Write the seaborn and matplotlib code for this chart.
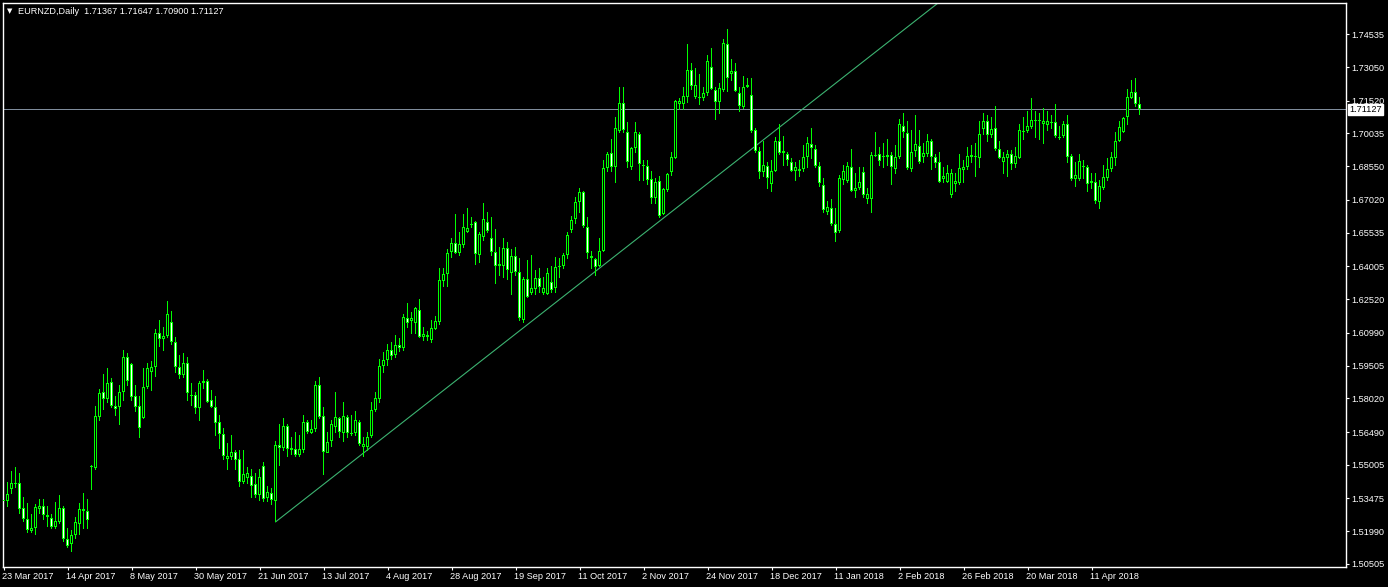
import matplotlib
matplotlib.use("Agg")
import matplotlib.pyplot as plt
import matplotlib.transforms as mtransforms
import numpy as np
import pandas as pd
import seaborn as sns

# EURNZD daily bars, 23 Mar 2017 .. 27 Apr 2018
opens = [
    1.5336, 1.5336, 1.5391, 1.5418, 1.5417, 1.5304, 1.5254, 1.5200, 1.5213, 1.5300,
    1.5313, 1.5273, 1.5259, 1.5218, 1.5241, 1.5304, 1.5164, 1.5141, 1.5182, 1.5232,
    1.5291, 1.5291, 1.5495, 1.5486, 1.5717, 1.5830, 1.5799, 1.5876, 1.5767, 1.5762,
    1.5830, 1.5989, 1.5957, 1.5812, 1.5767, 1.5712, 1.5853, 1.5921, 1.5944, 1.6098,
    1.6071, 1.6085, 1.6148, 1.6057, 1.5944, 1.5908, 1.5962, 1.5817, 1.5817, 1.5758,
    1.5871, 1.5880, 1.5794, 1.5762, 1.5694, 1.5640, 1.5527, 1.5536, 1.5558, 1.5527,
    1.5422, 1.5440, 1.5450, 1.5413, 1.5363, 1.5495, 1.5350, 1.5372, 1.5336, 1.5590,
    1.5576, 1.5676, 1.5567, 1.5572, 1.5545, 1.5567, 1.5694, 1.5645, 1.5662, 1.5862,
    1.5722, 1.5554, 1.5608, 1.5672, 1.5712, 1.5645, 1.5717, 1.5645, 1.5645, 1.5694,
    1.5581, 1.5581, 1.5631, 1.5749, 1.5799, 1.5948, 1.5976, 1.6021, 1.5998, 1.6044,
    1.6030, 1.6166, 1.6153, 1.6143, 1.6202, 1.6080, 1.6089, 1.6066, 1.6116, 1.6148,
    1.6334, 1.6366, 1.6466, 1.6507, 1.6461, 1.6497, 1.6556, 1.6593, 1.6602, 1.6452,
    1.6534, 1.6602, 1.6529, 1.6466, 1.6411, 1.6402, 1.6484, 1.6370, 1.6448, 1.6375,
    1.6157, 1.6343, 1.6280, 1.6298, 1.6348, 1.6280, 1.6275, 1.6330, 1.6302, 1.6402,
    1.6402, 1.6452, 1.6565, 1.6615, 1.6693, 1.6738, 1.6579, 1.6438, 1.6434, 1.6402,
    1.6470, 1.6847, 1.6915, 1.6851, 1.7015, 1.7142, 1.7010, 1.6851, 1.6938, 1.7001,
    1.6860, 1.6856, 1.6797, 1.6711, 1.6788, 1.6638, 1.6747, 1.6829, 1.6892, 1.7137,
    1.7137, 1.7169, 1.7291, 1.7169, 1.7169, 1.7164, 1.7187, 1.7305, 1.7201, 1.7146,
    1.7201, 1.7409, 1.7273, 1.7287, 1.7187, 1.7124, 1.7214, 1.7178, 1.7019, 1.6924,
    1.6829, 1.6856, 1.6774, 1.6833, 1.6969, 1.6924, 1.6910, 1.6874, 1.6833, 1.6842,
    1.6842, 1.6897, 1.6956, 1.6933, 1.6856, 1.6770, 1.6647, 1.6665, 1.6593, 1.6561,
    1.6792, 1.6788, 1.6851, 1.6742, 1.6756, 1.6829, 1.6706, 1.6706, 1.6906, 1.6910,
    1.6901, 1.6897, 1.6906, 1.6842, 1.6897, 1.7037, 1.7006, 1.6842, 1.6924, 1.6947,
    1.6897, 1.6910, 1.6969, 1.6897, 1.6874, 1.6797, 1.6783, 1.6724, 1.6774, 1.6779,
    1.6838, 1.6851, 1.6897, 1.6901, 1.6892, 1.7024, 1.7060, 1.6997, 1.7028, 1.6933,
    1.6874, 1.6892, 1.6910, 1.6865, 1.6892, 1.7015, 1.7015, 1.7033, 1.7065, 1.7065,
    1.7046, 1.7042, 1.7051, 1.7056, 1.6987, 1.6992, 1.7046, 1.6901, 1.6797, 1.6797,
    1.6856, 1.6851, 1.6779, 1.6783, 1.6693, 1.6756, 1.6801, 1.6842, 1.6892, 1.6969,
    1.7010, 1.7078, 1.7164, 1.7192, 1.71367,
]
highs = [
    1.5363, 1.5422, 1.5468, 1.5490, 1.5459, 1.5350, 1.5323, 1.5273, 1.5318, 1.5341,
    1.5341, 1.5313, 1.5273, 1.5327, 1.5359, 1.5313, 1.5209, 1.5200, 1.5259, 1.5323,
    1.5372, 1.5341, 1.5499, 1.5767, 1.5844, 1.5908, 1.5939, 1.5894, 1.5812, 1.5862,
    1.6021, 1.6007, 1.5962, 1.5862, 1.5808, 1.5939, 1.5962, 1.5971, 1.6112, 1.6153,
    1.6125, 1.6239, 1.6198, 1.6076, 1.5998, 1.6007, 1.5985, 1.5871, 1.5830, 1.5876,
    1.5930, 1.5885, 1.5839, 1.5808, 1.5722, 1.5667, 1.5595, 1.5635, 1.5567, 1.5567,
    1.5567, 1.5486, 1.5477, 1.5463, 1.5481, 1.5509, 1.5400, 1.5391, 1.5608, 1.5681,
    1.5712, 1.5681, 1.5626, 1.5649, 1.5635, 1.5726, 1.5703, 1.5703, 1.5880, 1.5898,
    1.5758, 1.5649, 1.5703, 1.5830, 1.5717, 1.5781, 1.5726, 1.5726, 1.5744, 1.5703,
    1.5626, 1.5649, 1.5785, 1.5826, 1.5976, 1.6012, 1.6044, 1.6057, 1.6089, 1.6071,
    1.6180, 1.6230, 1.6193, 1.6216, 1.6248, 1.6125, 1.6107, 1.6153, 1.6175, 1.6393,
    1.6393, 1.6475, 1.6525, 1.6634, 1.6552, 1.6634, 1.6665, 1.6620, 1.6606, 1.6556,
    1.6688, 1.6643, 1.6624, 1.6570, 1.6488, 1.6529, 1.6511, 1.6479, 1.6488, 1.6438,
    1.6348, 1.6429, 1.6448, 1.6384, 1.6389, 1.6348, 1.6393, 1.6398, 1.6443, 1.6434,
    1.6457, 1.6552, 1.6629, 1.6711, 1.6756, 1.6742, 1.6624, 1.6470, 1.6438, 1.6525,
    1.6883, 1.6919, 1.6974, 1.7074, 1.7210, 1.7210, 1.7051, 1.6942, 1.7051, 1.7010,
    1.6883, 1.6883, 1.6833, 1.6801, 1.6806, 1.6756, 1.6824, 1.6915, 1.7155, 1.7160,
    1.7210, 1.7405, 1.7319, 1.7300, 1.7273, 1.7210, 1.7359, 1.7387, 1.7210, 1.7228,
    1.7432, 1.7473, 1.7337, 1.7319, 1.7214, 1.7260, 1.7255, 1.7251, 1.7024, 1.6938,
    1.6965, 1.6874, 1.6879, 1.6983, 1.7042, 1.6992, 1.6919, 1.6888, 1.6870, 1.6883,
    1.6951, 1.6983, 1.7024, 1.6947, 1.6874, 1.6797, 1.6697, 1.6702, 1.6665, 1.6815,
    1.6860, 1.6870, 1.6933, 1.6820, 1.6847, 1.6847, 1.6756, 1.6915, 1.7010, 1.6942,
    1.6956, 1.6974, 1.6919, 1.6947, 1.7069, 1.7096, 1.7056, 1.7015, 1.7087, 1.7015,
    1.6960, 1.6997, 1.6978, 1.6906, 1.6919, 1.6847, 1.6860, 1.6838, 1.6820, 1.6910,
    1.6879, 1.6942, 1.6947, 1.6956, 1.7056, 1.7092, 1.7083, 1.7078, 1.7128, 1.6965,
    1.6915, 1.6924, 1.6928, 1.6942, 1.7042, 1.7078, 1.7105, 1.7160, 1.7105, 1.7092,
    1.7119, 1.7105, 1.7087, 1.7137, 1.7037, 1.7060, 1.7087, 1.6910, 1.6870, 1.6906,
    1.6883, 1.6860, 1.6824, 1.6820, 1.6788, 1.6856, 1.6888, 1.6919, 1.7006, 1.7060,
    1.7078, 1.7201, 1.7246, 1.7251, 1.71647,
]
lows = [
    1.5281, 1.5309, 1.5372, 1.5395, 1.5281, 1.5241, 1.5191, 1.5195, 1.5186, 1.5281,
    1.5250, 1.5222, 1.5213, 1.5209, 1.5232, 1.5150, 1.5127, 1.5105, 1.5164, 1.5186,
    1.5209, 1.5209, 1.5386, 1.5481, 1.5703, 1.5753, 1.5781, 1.5762, 1.5722, 1.5681,
    1.5794, 1.5862, 1.5794, 1.5744, 1.5626, 1.5712, 1.5848, 1.5839, 1.5903, 1.6039,
    1.6021, 1.6076, 1.6044, 1.5921, 1.5894, 1.5898, 1.5794, 1.5767, 1.5735, 1.5699,
    1.5848, 1.5781, 1.5758, 1.5635, 1.5576, 1.5522, 1.5477, 1.5522, 1.5477, 1.5400,
    1.5417, 1.5417, 1.5350, 1.5354, 1.5336, 1.5332, 1.5332, 1.5318, 1.5241, 1.5499,
    1.5567, 1.5540, 1.5545, 1.5540, 1.5540, 1.5558, 1.5640, 1.5640, 1.5653, 1.5712,
    1.5454, 1.5554, 1.5581, 1.5649, 1.5626, 1.5604, 1.5626, 1.5635, 1.5635, 1.5590,
    1.5536, 1.5567, 1.5626, 1.5740, 1.5785, 1.5921, 1.5953, 1.5976, 1.5985, 1.6012,
    1.6021, 1.6121, 1.6098, 1.6094, 1.6076, 1.6066, 1.6066, 1.6053, 1.6112, 1.6139,
    1.6311, 1.6311, 1.6443, 1.6457, 1.6448, 1.6484, 1.6552, 1.6579, 1.6407, 1.6416,
    1.6520, 1.6552, 1.6452, 1.6325, 1.6361, 1.6348, 1.6339, 1.6271, 1.6361, 1.6157,
    1.6148, 1.6257, 1.6271, 1.6271, 1.6280, 1.6271, 1.6271, 1.6280, 1.6284, 1.6348,
    1.6393, 1.6438, 1.6556, 1.6597, 1.6647, 1.6579, 1.6438, 1.6393, 1.6361, 1.6398,
    1.6466, 1.6829, 1.6829, 1.6783, 1.7010, 1.7010, 1.6847, 1.6842, 1.6915, 1.6792,
    1.6792, 1.6770, 1.6688, 1.6688, 1.6624, 1.6634, 1.6738, 1.6815, 1.6888, 1.7110,
    1.7110, 1.7146, 1.7201, 1.7160, 1.7133, 1.7155, 1.7178, 1.7201, 1.7069, 1.7096,
    1.7196, 1.7192, 1.7246, 1.7192, 1.7101, 1.7119, 1.7210, 1.7010, 1.6919, 1.6797,
    1.6806, 1.6756, 1.6738, 1.6829, 1.6910, 1.6860, 1.6856, 1.6829, 1.6788, 1.6806,
    1.6833, 1.6851, 1.6892, 1.6847, 1.6761, 1.6647, 1.6634, 1.6584, 1.6515, 1.6552,
    1.6770, 1.6779, 1.6738, 1.6711, 1.6751, 1.6715, 1.6688, 1.6643, 1.6897, 1.6860,
    1.6851, 1.6856, 1.6774, 1.6824, 1.6892, 1.6987, 1.6838, 1.6833, 1.6897, 1.6865,
    1.6874, 1.6897, 1.6838, 1.6847, 1.6779, 1.6783, 1.6779, 1.6715, 1.6738, 1.6774,
    1.6779, 1.6842, 1.6870, 1.6806, 1.6851, 1.6997, 1.6965, 1.6983, 1.6928, 1.6888,
    1.6820, 1.6806, 1.6838, 1.6851, 1.6888, 1.6978, 1.7010, 1.7028, 1.6987, 1.6978,
    1.6960, 1.7019, 1.7028, 1.6987, 1.6978, 1.6987, 1.6874, 1.6792, 1.6761, 1.6792,
    1.6801, 1.6738, 1.6756, 1.6684, 1.6665, 1.6747, 1.6792, 1.6829, 1.6860, 1.6965,
    1.7006, 1.7046, 1.7160, 1.7124, 1.70900,
]
closes = [
    1.5341, 1.5368, 1.5417, 1.5417, 1.5300, 1.5254, 1.5204, 1.5213, 1.5309, 1.5313,
    1.5273, 1.5263, 1.5218, 1.5245, 1.5304, 1.5164, 1.5132, 1.5182, 1.5241, 1.5300,
    1.5300, 1.5250, 1.5490, 1.5722, 1.5826, 1.5799, 1.5871, 1.5767, 1.5753, 1.5830,
    1.5989, 1.5880, 1.5808, 1.5762, 1.5667, 1.5853, 1.5939, 1.5944, 1.6098, 1.6071,
    1.6085, 1.6184, 1.6057, 1.5944, 1.5908, 1.5962, 1.5826, 1.5816, 1.5758, 1.5871,
    1.5880, 1.5785, 1.5762, 1.5690, 1.5640, 1.5540, 1.5540, 1.5558, 1.5522, 1.5422,
    1.5459, 1.5463, 1.5404, 1.5363, 1.5445, 1.5345, 1.5377, 1.5341, 1.5590, 1.5576,
    1.5676, 1.5572, 1.5576, 1.5545, 1.5572, 1.5694, 1.5649, 1.5662, 1.5862, 1.5717,
    1.5558, 1.5604, 1.5685, 1.5717, 1.5649, 1.5722, 1.5645, 1.5644, 1.5703, 1.5595,
    1.5595, 1.5626, 1.5749, 1.5803, 1.5948, 1.5976, 1.6021, 1.5994, 1.6044, 1.6030,
    1.6171, 1.6143, 1.6166, 1.6211, 1.6080, 1.6094, 1.6080, 1.6121, 1.6153, 1.6339,
    1.6366, 1.6461, 1.6507, 1.6461, 1.6502, 1.6579, 1.6575, 1.6592, 1.6457, 1.6548,
    1.6615, 1.6561, 1.6466, 1.6402, 1.6402, 1.6484, 1.6384, 1.6448, 1.6375, 1.6166,
    1.6343, 1.6261, 1.6302, 1.6348, 1.6307, 1.6302, 1.6370, 1.6293, 1.6398, 1.6401,
    1.6452, 1.6543, 1.6611, 1.6693, 1.6738, 1.6584, 1.6461, 1.6448, 1.6398, 1.6470,
    1.6847, 1.6910, 1.6851, 1.7028, 1.7142, 1.7019, 1.6874, 1.6938, 1.7010, 1.6865,
    1.6856, 1.6792, 1.6711, 1.6783, 1.6629, 1.6751, 1.6820, 1.6897, 1.7151, 1.7151,
    1.7173, 1.7291, 1.7219, 1.7223, 1.7168, 1.7187, 1.7332, 1.7205, 1.7146, 1.7210,
    1.7414, 1.7255, 1.7287, 1.7196, 1.7128, 1.7214, 1.7223, 1.7015, 1.6924, 1.6829,
    1.6860, 1.6801, 1.6833, 1.6969, 1.6915, 1.6915, 1.6883, 1.6833, 1.6851, 1.6833,
    1.6897, 1.6960, 1.6938, 1.6856, 1.6779, 1.6656, 1.6670, 1.6593, 1.6552, 1.6801,
    1.6833, 1.6856, 1.6742, 1.6756, 1.6783, 1.6724, 1.6729, 1.6906, 1.6905, 1.6879,
    1.6900, 1.6906, 1.6851, 1.6897, 1.7046, 1.7010, 1.6847, 1.6919, 1.6956, 1.6874,
    1.6915, 1.6969, 1.6897, 1.6870, 1.6783, 1.6811, 1.6824, 1.6824, 1.6788, 1.6847,
    1.6851, 1.6901, 1.6906, 1.6900, 1.7001, 1.7060, 1.6997, 1.7024, 1.6933, 1.6892,
    1.6897, 1.6910, 1.6865, 1.6901, 1.7019, 1.7014, 1.7037, 1.7065, 1.7064, 1.7064,
    1.7060, 1.7060, 1.7056, 1.6992, 1.6983, 1.7046, 1.6897, 1.6797, 1.6815, 1.6879,
    1.6855, 1.6774, 1.6788, 1.6697, 1.6765, 1.6806, 1.6842, 1.6897, 1.6969, 1.7033,
    1.7074, 1.7169, 1.7192, 1.7137, 1.71127,
]

date_ticks = [0, 16, 32, 48, 64, 80, 96, 112, 128, 144, 160, 176, 192, 208, 224, 240, 256, 272]
date_labels = [
    "23 Mar 2017", "14 Apr 2017", "8 May 2017", "30 May 2017", "21 Jun 2017",
    "13 Jul 2017", "4 Aug 2017", "28 Aug 2017", "19 Sep 2017", "11 Oct 2017",
    "2 Nov 2017", "24 Nov 2017", "18 Dec 2017", "11 Jan 2018", "2 Feb 2018",
    "26 Feb 2018", "20 Mar 2018", "11 Apr 2018",
]
price_ticks = [1.74535, 1.73050, 1.71520, 1.70035, 1.68550, 1.67020, 1.65535, 1.64005,
               1.62520, 1.60990, 1.59505, 1.58020, 1.56490, 1.55005, 1.53475, 1.51990, 1.50505]

last_price = 1.71127
trend_from = (68, 1.5241)   # bar index, price
trend_through = (180, 1.6833)

df = pd.DataFrame({"open": opens, "high": highs, "low": lows, "close": closes})
df["bar"] = np.arange(len(df))
df["bull"] = df["close"] >= df["open"]

sns.set_theme(style="dark", rc={
    "figure.facecolor": "black", "axes.facecolor": "black",
    "axes.edgecolor": "white", "text.color": "white",
    "xtick.color": "white", "ytick.color": "white",
})
plt.rcParams["font.family"] = ["Liberation Sans", "DejaVu Sans"]

W, H = 1388, 587
fig = plt.figure(figsize=(W / 100, H / 100), dpi=100)
ax = fig.add_axes([2.5 / W, 20.5 / H, 1343 / W, 564 / H])
ax.set_facecolor("black")
ax.grid(False)

ylo, yhi = 1.50388, 1.75977
px = (yhi - ylo) / 564   # price per screen pixel

green = "#00ff00"
body_lo = df[["open", "close"]].min(axis=1)
body_h = (df["close"] - df["open"]).abs()

# wicks (no snapping so they sit on the body's centre pixel)
wicks = ax.vlines(df["bar"], df["low"], df["high"], color=green, lw=0.72,
                  antialiased=False, zorder=2)
wicks.set_snap(False)
# body outline: 3 px wide green block
ax.bar(df["bar"], np.maximum(body_h, px), bottom=body_lo - np.where(body_h < px, px / 2, 0),
       width=0.75, color=green, linewidth=0, antialiased=False, zorder=3)
# body fill: bull hollow (black), bear white
inner = body_h > 2.2 * px
ax.bar(df["bar"][inner], body_h[inner] - 2 * px, bottom=body_lo[inner] + px, width=0.25,
       color=np.where(df["bull"][inner], "black", "white"), linewidth=0,
       antialiased=False, zorder=4)

# current price line
ax.axhline(last_price, color="#7f8c9c", lw=0.72, zorder=1)

# trend line (ray to the right)
slope = (trend_through[1] - trend_from[1]) / (trend_through[0] - trend_from[0])
x_end = 340
ax.plot([trend_from[0], x_end], [trend_from[1], trend_from[1] + slope * (x_end - trend_from[0])],
        color="#3cb371", lw=0.8, zorder=1)

ax.set_xlim(-0.25, 335.5)
ax.set_ylim(ylo, yhi)

for s in ax.spines.values():
    s.set_color("white")
    s.set_linewidth(1.0)

ax.yaxis.tick_right()
ax.set_yticks(price_ticks)
ax.set_yticklabels([f"{p:.5f}" for p in price_ticks])
ax.tick_params(axis="y", which="major", direction="out", length=2.5, width=0.8,
               pad=2, labelsize=6.6, colors="white", right=True, left=False)

ax.set_xticks(date_ticks)
ax.set_xticklabels(date_labels, ha="left")
ax.tick_params(axis="x", which="major", direction="out", length=2.5, width=0.8,
               pad=1.5, labelsize=6.6, colors="white", bottom=True)
offset = mtransforms.ScaledTranslation(-1 / 100, 0, fig.dpi_scale_trans)
for lbl in ax.get_xticklabels():
    lbl.set_transform(lbl.get_transform() + offset)

# price tag on the axis
tag_tr = mtransforms.blended_transform_factory(ax.transAxes, ax.transData)
ax.text(1.0 + 3.5 / 1343, last_price, f"{last_price:.5f}", transform=tag_tr,
        ha="left", va="center", fontsize=6.6, color="black", clip_on=False, zorder=10,
        bbox=dict(boxstyle="square,pad=0.15", facecolor="white", edgecolor="white"))

# header
fig.text(6.5 / W, 1 - 11 / H, "\u25bc", fontsize=5, color="white", va="center", ha="left",
         family=["DejaVu Sans"])
fig.text(18 / W, 1 - 11 / H, "EURNZD,Daily  1.71367 1.71647 1.70900 1.71127",
         fontsize=6.6, color="white", va="center", ha="left")

fig.savefig("out.png", dpi=100, facecolor="black")
